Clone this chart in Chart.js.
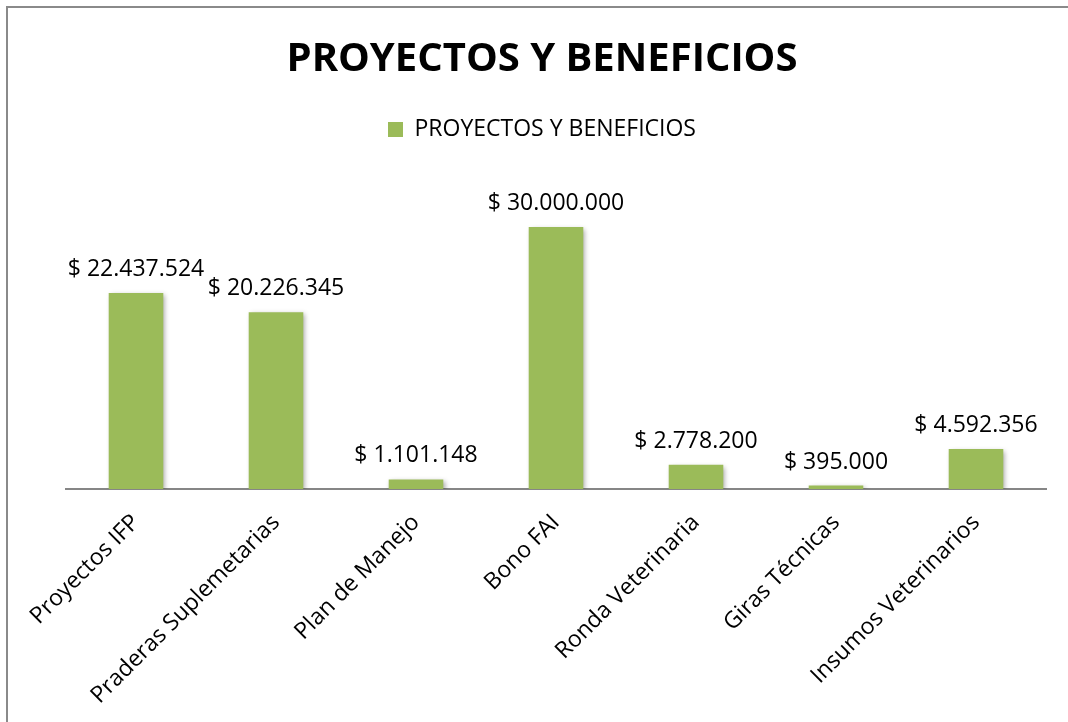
<!DOCTYPE html>
<html>
<head>
<meta charset="utf-8">
<script src="https://cdn.jsdelivr.net/npm/chart.js@4"></script>
<style>
  html, body { margin: 0; padding: 0; background: #fff; overflow: hidden; }
  #frame { position: absolute; left: 6px; top: 6px; width: 2000px; height: 2000px;
           border-left: 2px solid #8a8a8a; border-top: 2px solid #8a8a8a; }
  #wrap { position: absolute; left: 0; top: 0; width: 1068px; height: 722px; }
</style>
</head>
<body>
<div id="frame"></div>
<div id="wrap"><canvas id="chart" width="1068" height="722"></canvas></div>
<script>
var categories = ["Proyectos IFP", "Praderas Suplemetarias", "Plan de Manejo", "Bono FAI",
                  "Ronda Veterinaria", "Giras Técnicas", "Insumos Veterinarios"];
var valores = [22437524, 20226345, 1101148, 30000000, 2778200, 395000, 4592356];
var serieNombre = "PROYECTOS Y BENEFICIOS";
var tituloTexto = "PROYECTOS Y BENEFICIOS";

var verde = '#9bbb59';
var fuente = "'Open Sans', 'DejaVu Sans', sans-serif";

function formatoPesos(v) {
    return '$ ' + String(v).replace(/\B(?=(\d{3})+(?!\d))/g, '.');
}

// sombra de las barras y etiquetas de valor
var barrasPlugin = {
    id: 'barras',
    beforeDatasetsDraw: function(chart) {
        var ctx = chart.ctx;
        ctx.save();
        ctx.shadowColor = 'rgba(0,0,0,0.35)';
        ctx.shadowBlur = 5;
        ctx.shadowOffsetX = 2;
        ctx.shadowOffsetY = 2;
    },
    afterDatasetsDraw: function(chart) {
        var ctx = chart.ctx;
        ctx.restore();
        var meta = chart.getDatasetMeta(0);
        ctx.save();
        ctx.font = '23px ' + fuente;
        ctx.fillStyle = '#000';
        ctx.textAlign = 'center';
        ctx.textBaseline = 'bottom';
        meta.data.forEach(function(bar, i) {
            ctx.fillText(formatoPesos(valores[i]), bar.x, bar.y - 12);
        });
        ctx.restore();
    }
};

var ctx = document.getElementById('chart').getContext('2d');

var chart = new Chart(ctx, {
    type: 'bar',
    data: {
        labels: categories,
        datasets: [{
            label: serieNombre,
            data: valores,
            backgroundColor: verde,
            borderWidth: 0,
            barPercentage: 0.78,
            categoryPercentage: 0.5
        }]
    },
    options: {
        responsive: false,
        animation: false,
        // titulo y leyenda centrados en x=542
        layout: { padding: { left: 30, right: 14, top: 36, bottom: 0 } },
        plugins: {
            title: {
                display: true,
                text: tituloTexto,
                color: '#000',
                font: { family: fuente, size: 40, weight: 'bold' },
                padding: { top: 0, bottom: 24 }
            },
            legend: {
                display: true,
                labels: {
                    color: '#000',
                    font: { family: fuente, size: 23 },
                    boxWidth: 15,
                    boxHeight: 15,
                    padding: 10
                }
            },
            tooltip: { enabled: false }
        },
        scales: {
            y: {
                display: false,
                min: 0,
                max: 38700000
            },
            x: {
                grid: { display: false, drawTicks: false },
                border: { display: true, color: '#868686', width: 2 },
                ticks: {
                    color: '#000',
                    font: { family: fuente, size: 23 },
                    maxRotation: 45,
                    minRotation: 45,
                    padding: 20,
                    autoSkip: false
                },
                afterFit: function(scale) {
                    scale.height = 233;
                    // area del grafico de x=66 a x=1046
                    scale.paddingLeft = 66;
                    scale.paddingRight = 22;
                }
            }
        }
    },
    plugins: [barrasPlugin]
});
</script>
</body>
</html>
